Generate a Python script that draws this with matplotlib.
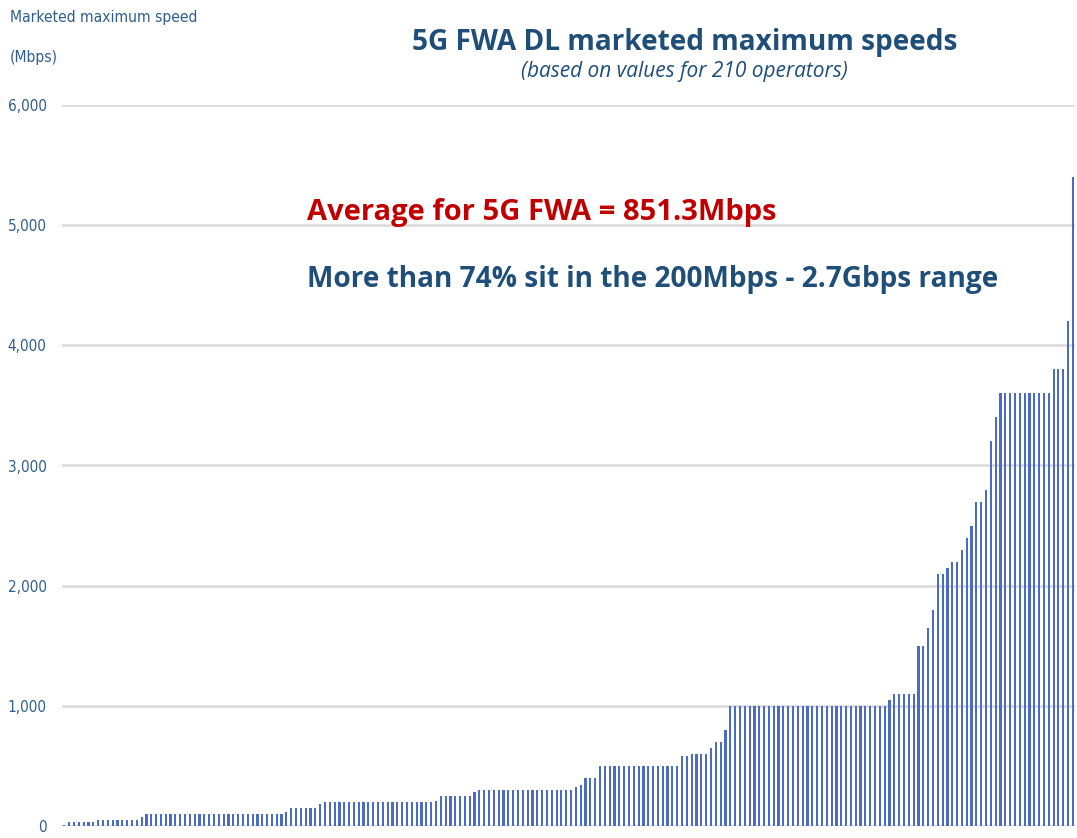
import matplotlib
matplotlib.use("Agg")
import matplotlib.pyplot as plt
from matplotlib import font_manager
from matplotlib.font_manager import FontProperties

# ---- data (sorted marketed max DL speeds, Mbps, 210 operators) ----
speeds = [
    10, 30, 30, 30, 30, 30, 30, 50, 50, 50, 50, 50, 50, 50, 50, 50,
    75, 100, 100, 100, 100, 100, 100, 100, 100, 100, 100, 100, 100, 100, 100,
    100, 100, 100, 100, 100, 100, 100, 100, 100, 100, 100, 100, 100, 100, 100,
    120, 150, 150, 150, 150, 150, 150, 180,
    200, 200, 200, 200, 200, 200, 200, 200, 200, 200, 200, 200, 200, 200, 200,
    200, 200, 200, 200, 200, 200, 200, 200, 210,
    250, 250, 250, 250, 250, 250, 250, 280,
    300, 300, 300, 300, 300, 300, 300, 300, 300, 300, 300, 300, 300, 300, 300,
    300, 300, 300, 300, 300, 328, 345, 400, 400, 400,
    500, 500, 500, 500, 500, 500, 500, 500, 500, 500, 500, 500, 500, 500, 500,
    500, 500, 580, 580, 600, 600, 600, 600, 650, 700, 700, 800,
    1000, 1000, 1000, 1000, 1000, 1000, 1000, 1000, 1000, 1000, 1000, 1000,
    1000, 1000, 1000, 1000, 1000, 1000, 1000, 1000, 1000, 1000, 1000, 1000,
    1000, 1000, 1000, 1000, 1000, 1000, 1000, 1000, 1000,
    1050, 1100, 1100, 1100, 1100, 1100, 1500, 1500, 1650, 1800, 2100, 2100,
    2150, 2200, 2200, 2300, 2400, 2500, 2700, 2700, 2800, 3200, 3400,
    3600, 3600, 3600, 3600, 3600, 3600, 3600, 3600, 3600, 3600, 3600,
    3800, 3800, 3800, 4200, 5400,
]
y_ticks = [0, 1000, 2000, 3000, 4000, 5000, 6000]
y_tick_labels = ["0", "1,000", "2,000", "3,000", "4,000", "5,000", "6,000"]

title = "5G FWA DL marketed maximum speeds"
subtitle = "(based on values for 210 operators)"
avg_text = "Average for 5G FWA = 851.3Mbps"
range_text = "More than 74% sit in the 200Mbps - 2.7Gbps range"
ylabel1 = "Marketed maximum speed"
ylabel2 = "(Mbps)"

W, H = 1077, 838

# find a condensed / narrow sans font if one is installed
narrow_path = None
for f in font_manager.fontManager.ttflist:
    n = f.fname.lower()
    if ("condensed" in n or "narrow" in n) and "bold" not in n and "oblique" not in n \
            and "italic" not in n and "light" not in n and "semi" not in n:
        if "sans" in n or "roboto" in n or "open" in n:
            narrow_path = f.fname
            break
if narrow_path:
    def axfont(size):
        return FontProperties(fname=narrow_path, size=size)
else:
    def axfont(size):
        return FontProperties(family="DejaVu Sans", stretch="condensed", size=size)
tick_size = 11
label_size = 11.2

main_font = "Open Sans"
axis_text_color = "#2F5D8C"

fig = plt.figure(figsize=(W / 100, H / 100), dpi=100)
fig.patch.set_facecolor("white")

x0, x1 = 62, 1075.3
ytop, ybot = 105, 826
ax = fig.add_axes([x0 / W, (H - ybot) / H, (x1 - x0) / W, (ybot - ytop) / H])

bar_color = "#4A6BC6"
ax.bar(range(len(speeds)), speeds, width=0.45, color=bar_color, zorder=3, linewidth=0)
ax.set_xlim(-0.5, len(speeds) - 0.5)
ax.set_ylim(0, 6000)
ax.set_yticks(y_ticks)
ax.set_yticklabels(y_tick_labels)
ax.set_xticks([])
for s in ax.spines.values():
    s.set_visible(False)
ax.yaxis.grid(True, color="#D9D9D9", linewidth=1.8, zorder=0)
ax.tick_params(axis="y", length=0, pad=11, labelcolor=axis_text_color)
for lbl in ax.get_yticklabels():
    lbl.set_fontproperties(axfont(tick_size))

blue = "#1F4E79"
red = "#C00000"

def fx(px):
    return px / W

def fy(py):
    return 1 - py / H

fig.text(fx(10), fy(22), ylabel1, fontproperties=axfont(label_size), color=axis_text_color,
         va="baseline", ha="left")
fig.text(fx(10), fy(62), ylabel2, fontproperties=axfont(label_size), color=axis_text_color,
         va="baseline", ha="left")

fig.text(fx(685), fy(50), title, family=main_font, fontweight="bold", fontsize=20.2,
         color=blue, ha="center", va="baseline")
fig.text(fx(684), fy(77), subtitle, family=main_font, style="italic", fontsize=15,
         color=blue, ha="center", va="baseline")
fig.text(fx(307), fy(220), avg_text, family=main_font, fontweight="bold", fontsize=21,
         color=red, ha="left", va="baseline")
fig.text(fx(307), fy(287), range_text, family=main_font, fontweight="bold", fontsize=20.2,
         color=blue, ha="left", va="baseline")

fig.savefig("out.png", dpi=100, facecolor="white")
